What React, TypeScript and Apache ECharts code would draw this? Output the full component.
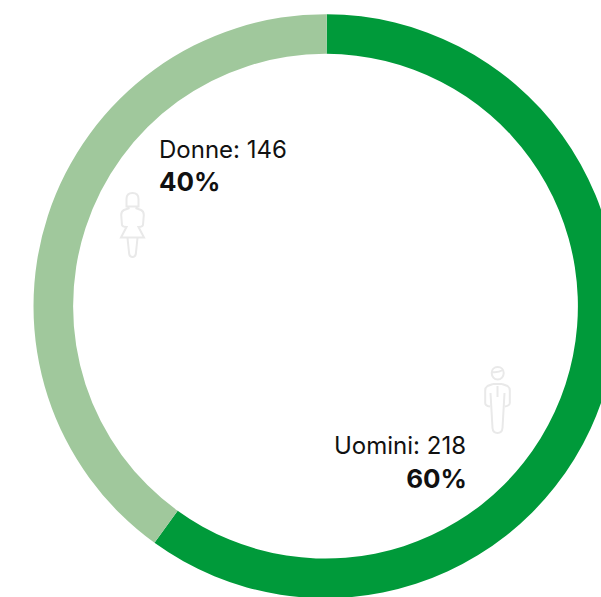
import React, { useEffect, useRef } from "react";
import * as echarts from "echarts";

const categories = ["Uomini", "Donne"];
const counts = [218, 146];
const percents = ["60%", "40%"];
const colors = ["#009A3A", "#A0C89C"];

const WOMAN =
  "M6.5 14.5L6.5 7C6.5 3 9 1 12.5 1C16 1 18.5 3 18.5 7L18.5 14.5ZM9.5 16L4 18C2 19 1.2 21 1.2 23L2 33C2.3 34 3.5 35 6.5 35L1 45.5L24 45.5L18.5 35C21.5 35 22.7 34 23 33L23.8 23C23.8 21 23 19 21 18L15.5 16M7.5 46L9.2 62C9.6 64 11 65 12.5 65C14 65 15.4 64 15.8 62L17.5 46";
const MAN =
  "M13.7 1C10.2 1 7.7 3.5 7.7 7C7.7 10.5 10.2 13.5 13.7 13.5C17.2 13.5 19.7 10.5 19.7 7C19.7 3.5 17.2 1 13.7 1ZM8 6C11.5 6.5 15.5 6 19 4M9 18L3.5 20C2 21 1.2 22.5 1.2 24.5L1.2 37C1.2 39 2.5 40 6 40.5M18 18L23.5 20C25 21 25.8 22.5 25.8 24.5L25.8 37C25.8 39 24.5 40 21 40.5M6.5 27L8.5 62C8.8 65.5 10.5 67 13.5 67C16.5 67 18.2 65.5 18.5 62L20.5 27M13.5 20L13.5 31M9 18L18 18";

echarts.graphic.registerShape("womanIcon", echarts.graphic.extendPath(WOMAN, {}));
echarts.graphic.registerShape("manIcon", echarts.graphic.extendPath(MAN, {}));

const iconStyle = { fill: "none", stroke: "#E9E9E9", lineWidth: 2 };
const font = 'Inter, "Liberation Sans", Arial, sans-serif';

export default function App() {
  const ref = useRef<HTMLDivElement>(null);
  useEffect(() => {
    const chart = echarts.init(ref.current!, null, { renderer: "svg" });
    chart.setOption({
      animation: false,
      backgroundColor: "#fff",
      series: [
        {
          type: "pie",
          center: [325.5, 306.2],
          radius: [252.4, 292],
          startAngle: 89.75,
          clockwise: true,
          silent: true,
          label: { show: false },
          labelLine: { show: false },
          itemStyle: { borderWidth: 0 },
          data: categories.map((name, i) => ({
            name,
            value: counts[i],
            itemStyle: { color: colors[i] },
          })),
        },
      ],
      graphic: [
        { type: "womanIcon", x: 120, y: 192, style: iconStyle },
        { type: "manIcon", x: 484, y: 366, style: iconStyle },
        {
          type: "text",
          x: 159,
          y: 149,
          style: {
            text: `${categories[1]}: ${counts[1]}`,
            font: `24px ${font}`,
            fill: "#111",
            textAlign: "left",
            textVerticalAlign: "middle",
          },
        },
        {
          type: "text",
          x: 159,
          y: 181,
          style: {
            text: percents[1],
            font: `bold 26px ${font}`,
            fill: "#111",
            textAlign: "left",
            textVerticalAlign: "middle",
          },
        },
        {
          type: "text",
          x: 466,
          y: 445,
          style: {
            text: `${categories[0]}: ${counts[0]}`,
            font: `24px ${font}`,
            fill: "#111",
            textAlign: "right",
            textVerticalAlign: "middle",
          },
        },
        {
          type: "text",
          x: 467,
          y: 478,
          style: {
            text: percents[0],
            font: `bold 26px ${font}`,
            fill: "#111",
            textAlign: "right",
            textVerticalAlign: "middle",
          },
        },
      ],
    });
    return () => chart.dispose();
  }, []);
  return (
    <div
      ref={ref}
      style={{ position: "absolute", left: 0, top: 0, width: 601, height: 597 }}
    />
  );
}
